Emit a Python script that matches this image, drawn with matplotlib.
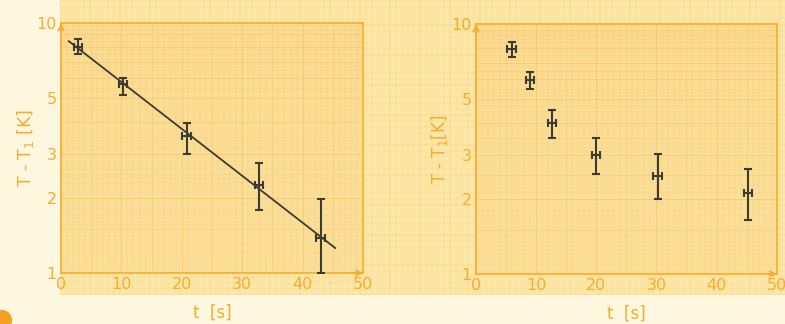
import numpy as np
import matplotlib
matplotlib.use("Agg")
import matplotlib.pyplot as plt
from matplotlib.patches import Ellipse

# left chart: measured points with straight-line fit (semi-log)
t_left = [2.8, 10.3, 20.8, 32.8, 43.0]
dT_left = [8.04, 5.69, 3.53, 2.25, 1.38]
dT_left_hi = [8.6, 6.04, 3.99, 2.75, 1.98]
dT_left_lo = [7.5, 5.15, 2.99, 1.79, 1.0]
fit_t_range = [1.3, 45.4]

# right chart: measured points only
t_right = [5.9, 9.0, 12.6, 20.0, 30.2, 45.2]
dT_right = [7.94, 5.97, 4.01, 2.99, 2.47, 2.11]
dT_right_hi = [8.5, 6.45, 4.53, 3.51, 3.01, 2.62]
dT_right_lo = [7.4, 5.48, 3.49, 2.51, 2.0, 1.64]

t_err = 0.7
x_ticks = [0, 10, 20, 30, 40, 50]
y_ticks = [1, 2, 3, 5, 10]

cream = "#fcf7de"
paper = "#fce6a8"
inner = "#fbdf98"
orange = "#f6ac2e"
grid_c = "#f3b850"
ink = "#3b3a33"

fig = plt.figure(figsize=(7.85, 3.24), dpi=100)
fig.patch.set_facecolor(cream)

# graph paper sheet behind both charts
bg = fig.add_axes([0.0764, 0.0895, 0.9236, 0.9105], zorder=0)
bg.set_facecolor(paper)
bg.set_xlim(0, 725)
bg.set_ylim(0, 295)
for x in np.arange(0, 726, 6):
    bg.axvline(x, color=grid_c, lw=0.3, alpha=0.3 if x % 30 else 0.6)
for y in np.arange(0, 296, 6):
    bg.axhline(y, color=grid_c, lw=0.3, alpha=0.3 if y % 30 else 0.6)
for s in bg.spines.values():
    s.set_visible(False)
bg.set_xticks([])
bg.set_yticks([])


def setup(ax):
    ax.set_facecolor(inner)
    ax.set_yscale("log")
    ax.set_xlim(0, 50)
    ax.set_ylim(1, 10)
    # millimetre-like grid
    for x in np.arange(0, 51, 1):
        lw = 0.8 if x % 10 == 0 else (0.5 if x % 5 == 0 else 0.25)
        ax.axvline(x, color=grid_c, lw=lw, alpha=0.45, zorder=1)
    for d in np.arange(1, 10, 0.1):
        d = round(d, 1)
        lw = 0.7 if abs(d - round(d)) < 1e-6 else (0.45 if abs(d * 2 - round(d * 2)) < 1e-6 else 0.2)
        ax.axhline(d, color=grid_c, lw=lw, alpha=0.45, zorder=1)
    for s in ax.spines.values():
        s.set_color(orange)
        s.set_linewidth(1.2)
    ax.set_xticks(x_ticks)
    ax.set_xticklabels([str(v) for v in x_ticks])
    ax.set_yticks(y_ticks)
    ax.set_yticklabels([str(v) for v in y_ticks])
    ax.minorticks_off()
    ax.tick_params(colors=orange, labelsize=11.5, length=0, pad=3)
    ax.annotate("", xy=(0, 1.01), xytext=(0, 0.95), xycoords="axes fraction",
                arrowprops=dict(arrowstyle="->", color=orange, lw=1.2))
    ax.annotate("", xy=(1.01, 0), xytext=(0.95, 0), xycoords="axes fraction",
                arrowprops=dict(arrowstyle="->", color=orange, lw=1.2))


def draw_points(ax, t, dT, hi, lo):
    dT = np.array(dT)
    yerr = [dT - np.array(lo), np.array(hi) - dT]
    ax.errorbar(t, dT, xerr=t_err, yerr=yerr, fmt="none", ecolor=ink,
                elinewidth=1.5, capsize=3, capthick=1.5, zorder=5)


ax1 = fig.add_axes([0.0777, 0.1574, 0.3847, 0.7716], zorder=1)
setup(ax1)
draw_points(ax1, t_left, dT_left, dT_left_hi, dT_left_lo)
k, b = np.polyfit(t_left, np.log(dT_left), 1)
tt = np.array(fit_t_range)
ax1.plot(tt, np.exp(k * tt + b), color=ink, lw=1.3, zorder=4)
ax1.set_ylabel("T - T$_1$ [K]", color=orange, fontsize=12.5, labelpad=0)
ax1.set_xlabel("t  [s]", color=orange, fontsize=12, labelpad=8)

ax2 = fig.add_axes([0.6064, 0.1543, 0.383, 0.7716], zorder=1)
setup(ax2)
draw_points(ax2, t_right, dT_right, dT_right_hi, dT_right_lo)
ax2.set_ylabel("T - T$_1$[K]", color=orange, fontsize=12, labelpad=1)
ax2.set_xlabel("t  [s]", color=orange, fontsize=12, labelpad=8)

# page marker in the corner
fig.patches.append(Ellipse((2 / 785, 4 / 324), 20 / 785, 20 / 324,
                           transform=fig.transFigure, facecolor="#f4a020",
                           edgecolor="none", zorder=0))

fig.savefig("out.png", dpi=100, facecolor=fig.get_facecolor())
